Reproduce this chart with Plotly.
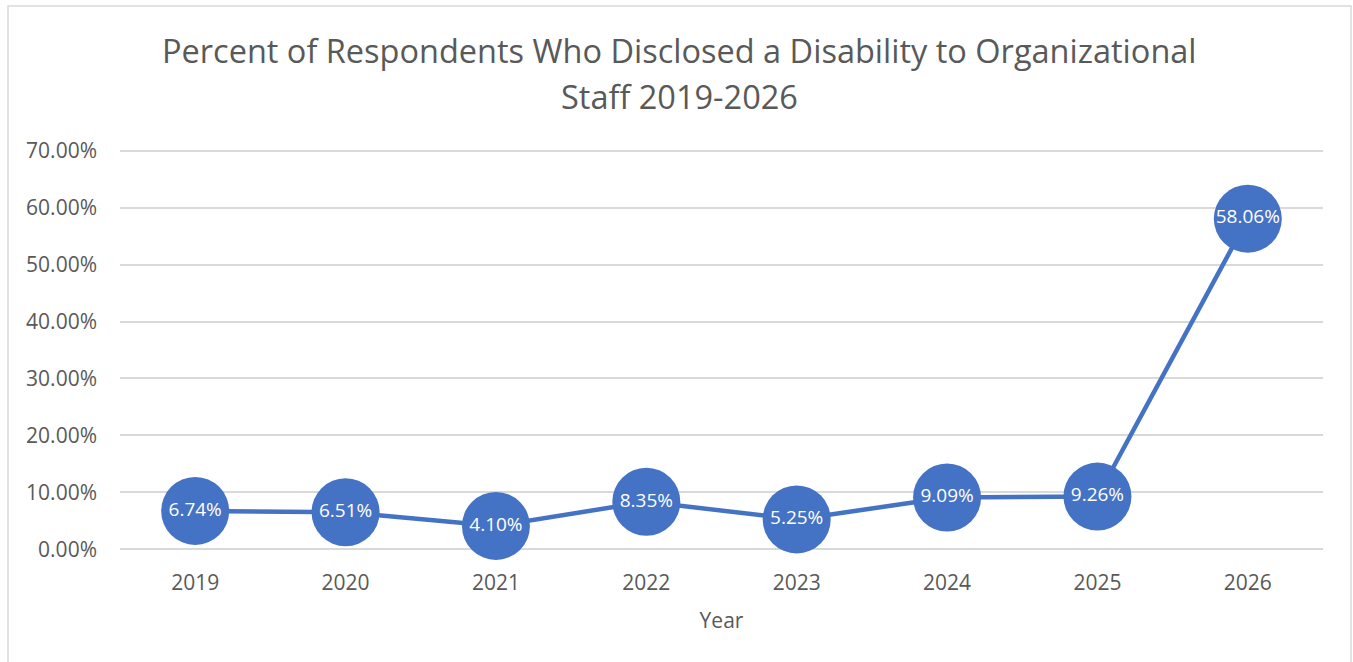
import plotly.graph_objects as go

years = ["2019", "2020", "2021", "2022", "2023", "2024", "2025", "2026"]
percent_disclosed = [6.74, 6.51, 4.10, 8.35, 5.25, 9.09, 9.26, 58.06]
y_ticks = [0, 10, 20, 30, 40, 50, 60, 70]
y_tick_labels = [f"{v:.2f}%" for v in y_ticks]
title_lines = ["Percent of Respondents Who Disclosed a Disability to Organizational",
               "Staff 2019-2026"]

BLUE = "#4472C4"
GREY_TEXT = "#595959"
FONT = "Open Sans, Noto Sans, sans-serif"

W, H = 1353, 662
L, R, T, B = 120, 30, 149, 111
PW, PH = W - L - R, H - T - B

fig = go.Figure()
fig.add_trace(go.Scatter(
    x=list(range(len(years))),
    y=percent_disclosed,
    mode="lines+markers+text",
    line=dict(color=BLUE, width=4.5),
    marker=dict(size=68, color=BLUE, line=dict(width=0)),
    text=[f"{v:.2f}%" for v in percent_disclosed],
    textposition="middle center",
    textfont=dict(color="white", size=19, family=FONT),
    cliponaxis=False,
    hoverinfo="skip",
))

# two-line title, each line placed separately for wider line spacing
title_annotations = [
    dict(
        text=line,
        xref="paper", yref="paper",
        x=(679 - L) / PW, y=1 + (T - yc) / PH,
        xanchor="center", yanchor="middle",
        showarrow=False, align="center",
        font=dict(size=32.5, color=GREY_TEXT, family=FONT),
    )
    for line, yc in zip(title_lines, [50, 97])
]

fig.update_layout(
    width=W, height=H,
    margin=dict(l=L, r=R, t=T, b=B),
    paper_bgcolor="white", plot_bgcolor="white",
    showlegend=False,
    font=dict(family=FONT, color=GREY_TEXT),
    xaxis=dict(
        tickmode="array",
        tickvals=list(range(len(years))),
        ticktext=years,
        range=[-0.5, len(years) - 0.5],
        showgrid=False, zeroline=False, showline=False,
        ticks="", ticklen=0,
        tickfont=dict(size=21, color=GREY_TEXT),
        ticklabelstandoff=17,
        title=dict(text="Year", font=dict(size=21, color=GREY_TEXT), standoff=18),
    ),
    yaxis=dict(
        range=[-0.3, 70.3],
        tickmode="array",
        tickvals=y_ticks,
        ticktext=y_tick_labels,
        showgrid=True, gridcolor="#D9D9D9", gridwidth=1.5,
        zeroline=False, showline=False,
        ticks="", ticklen=0,
        tickfont=dict(size=21, color=GREY_TEXT),
        ticklabelstandoff=22,
    ),
    annotations=title_annotations,
    shapes=[dict(
        type="rect", xref="paper", yref="paper",
        x0=(8 - L) / PW, x1=(1351 - L) / PW,
        y0=-(B + 40) / PH, y1=1 + (T - 6) / PH,
        line=dict(color="#D9D9D9", width=1.5),
        fillcolor="rgba(0,0,0,0)", layer="below",
    )],
)

fig.write_html("out.html")
